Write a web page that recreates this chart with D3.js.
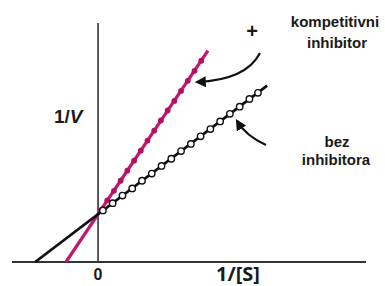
<!DOCTYPE html>
<html>
<head>
<meta charset="utf-8">
<script src="https://cdn.jsdelivr.net/npm/d3@7"></script>
<style>
  body { margin: 0; background: #fff; }
  text { font-family: "Liberation Sans", Arial, sans-serif; font-weight: bold; fill: #1a1a1a; }
</style>
</head>
<body>
<script>
// Lineweaver-Burk, bez inhibitora vs. kompetitivni inhibitor
var lineNoInhX = [-1.03, 2.77];
var lineNoInhY = [0, 3.69];
var dotsNoInhX = [0.08, 0.24, 0.40, 0.56, 0.72, 0.88, 1.04, 1.20, 1.36, 1.52, 1.68, 1.84, 2.00, 2.16, 2.32, 2.48, 2.62];
var dotsNoInhY = [1.08, 1.23, 1.39, 1.54, 1.70, 1.85, 2.01, 2.16, 2.32, 2.47, 2.63, 2.78, 2.94, 3.10, 3.25, 3.41, 3.54];

var lineInhX = [-0.526, 1.80];
var lineInhY = [0, 4.42];
var dotsInhX = [0.04, 0.15, 0.26, 0.37, 0.48, 0.59, 0.70, 0.81, 0.92, 1.03, 1.14, 1.25, 1.36, 1.47, 1.58, 1.69];
var dotsInhY = [1.08, 1.29, 1.49, 1.70, 1.91, 2.12, 2.33, 2.54, 2.75, 2.96, 3.17, 3.37, 3.58, 3.79, 4.00, 4.21];

var xDomain = [-1.41, 4.39];
var yDomain = [0, 5];

var width = 385, height = 286;

var svg = d3.select('body').append('svg')
    .attr('width', width)
    .attr('height', height);

var x = d3.scaleLinear().domain(xDomain).range([12, 366]);
var y = d3.scaleLinear().domain(yDomain).range([262, 23]);

svg.append('defs').append('marker')
    .attr('id', 'head')
    .attr('viewBox', '0 0 10 10')
    .attr('refX', 8).attr('refY', 5)
    .attr('markerWidth', 5).attr('markerHeight', 5)
    .attr('orient', 'auto')
    .append('path')
    .attr('d', 'M0,0 L10,5 L0,10 z')
    .style('fill', '#111');

// axes
svg.append('line')
    .attr('x1', x(xDomain[0])).attr('x2', x(xDomain[1]))
    .attr('y1', y(0)).attr('y2', y(0))
    .style('stroke', '#333').style('stroke-width', 2);
svg.append('line')
    .attr('x1', x(0)).attr('x2', x(0))
    .attr('y1', y(0)).attr('y2', y(yDomain[1]))
    .style('stroke', '#333').style('stroke-width', 1.6);

var line = d3.line()
    .x(function (d) { return x(d[0]); })
    .y(function (d) { return y(d[1]); });

// magenta line (inhibitor)
svg.append('path')
    .datum(d3.zip(lineInhX, lineInhY))
    .attr('d', line)
    .style('fill', 'none')
    .style('stroke', '#c2186b')
    .style('stroke-width', 3.2);

svg.selectAll('circle.inh')
    .data(d3.zip(dotsInhX, dotsInhY))
    .enter()
    .append('circle')
    .attr('class', 'inh')
    .attr('cx', function (d) { return x(d[0]); })
    .attr('cy', function (d) { return y(d[1]); })
    .attr('r', 2.9)
    .style('fill', '#b3105f');

// black line (no inhibitor)
svg.append('path')
    .datum(d3.zip(lineNoInhX, lineNoInhY))
    .attr('d', line)
    .style('fill', 'none')
    .style('stroke', '#111')
    .style('stroke-width', 2.8);

svg.selectAll('circle.noinh')
    .data(d3.zip(dotsNoInhX, dotsNoInhY))
    .enter()
    .append('circle')
    .attr('class', 'noinh')
    .attr('cx', function (d) { return x(d[0]); })
    .attr('cy', function (d) { return y(d[1]); })
    .attr('r', 3.2)
    .style('fill', '#fff')
    .style('stroke', '#111')
    .style('stroke-width', 1.4);

// arrows
svg.append('path')
    .attr('d', 'M260,53 Q246,80 197,82')
    .style('fill', 'none').style('stroke', '#111').style('stroke-width', 2.2)
    .attr('marker-end', 'url(#head)');
svg.append('path')
    .attr('d', 'M266,145 Q246,136 237,121')
    .style('fill', 'none').style('stroke', '#111').style('stroke-width', 2.2)
    .attr('marker-end', 'url(#head)');

// texts
svg.append('text').attr('x', 252).attr('y', 38).attr('text-anchor', 'middle')
    .style('font-size', '20px').text('+');
svg.append('text').attr('x', 335).attr('y', 27).attr('text-anchor', 'middle')
    .style('font-size', '15px').text('kompetitivni');
svg.append('text').attr('x', 337).attr('y', 48).attr('text-anchor', 'middle')
    .style('font-size', '15px').text('inhibitor');
svg.append('text').attr('x', 337).attr('y', 147).attr('text-anchor', 'middle')
    .style('font-size', '15px').text('bez');
svg.append('text').attr('x', 336).attr('y', 165).attr('text-anchor', 'middle')
    .style('font-size', '15px').text('inhibitora');

var yl = svg.append('text').attr('x', 54).attr('y', 123).style('font-size', '19px');
yl.append('tspan').text('1/');
yl.append('tspan').style('font-style', 'italic').text('V');

svg.append('text').attr('x', x(0)).attr('y', 280).attr('text-anchor', 'middle')
    .style('font-size', '16px').text('0');
svg.append('text').attr('x', 238).attr('y', 281).attr('text-anchor', 'middle')
    .style('font-family', '"Open Sans", sans-serif')
    .style('font-size', '20px').text('1/[S]');
</script>
</body>
</html>
